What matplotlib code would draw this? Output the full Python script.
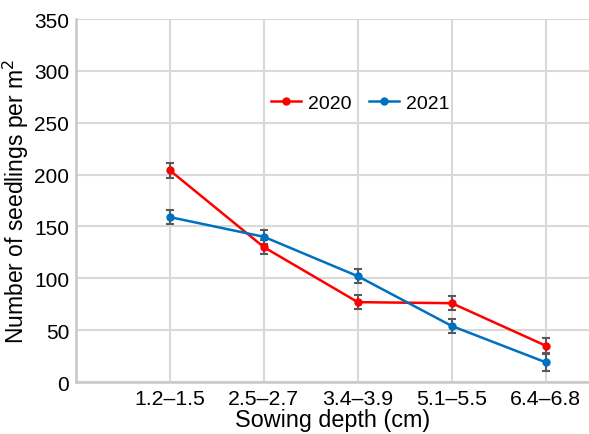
import matplotlib.pyplot as plt

plt.rcParams['font.family'] = ['Liberation Sans', 'DejaVu Sans']

depths = ['1.2\u20131.5', '2.5\u20132.7', '3.4\u20133.9', '5.1\u20135.5', '6.4\u20136.8']
y2020 = [204, 130, 77, 76, 35]
err2020 = [7, 7, 7, 7, 7]
y2021 = [159, 140, 102, 54, 19]
err2021 = [7, 7, 7, 7, 8]

xs = list(range(1, len(depths) + 1))

fig = plt.figure(figsize=(5.89, 4.35), dpi=100)
ax = fig.add_axes([0.129, 0.1195, 0.871, 0.8345])

for ys, errs, color, label in [(y2020, err2020, '#ff0000', '2020'),
                               (y2021, err2021, '#0070c0', '2021')]:
    ax.errorbar(xs, ys, yerr=errs, fmt='none', ecolor='#595959',
                elinewidth=1.5, capsize=3, capthick=1.5, zorder=3)
    ax.plot(xs, ys, '-o', color=color, lw=1.8, ms=5, label=label, zorder=4)

ax.set_xlim(0, 5.46)
ax.set_ylim(0, 350)
ax.set_xticks(xs)
ax.set_xticklabels(depths)
ax.set_yticks(range(0, 351, 50))
ax.grid(True, color='#d9d9d9', lw=1.5)
ax.set_axisbelow(True)
ax.tick_params(axis='x', length=0, labelsize=15.3, pad=5)
ax.tick_params(axis='y', length=0, labelsize=15, pad=5)
for s in ['top', 'right']:
    ax.spines[s].set_visible(False)
for s in ['left', 'bottom']:
    ax.spines[s].set_color('#c8c8c8')
    ax.spines[s].set_linewidth(1.8)

ax.set_xlabel('Sowing depth (cm)', fontsize=16.8, labelpad=0)
ax.set_ylabel('Number of seedlings per m$^2$', fontsize=16.5)
ax.yaxis.set_label_coords(-0.088, 0.5)

ax.legend(loc='center', bbox_to_anchor=(0.554, 0.769), ncol=2, frameon=False,
          fontsize=14, handlelength=1.55, columnspacing=0.9, handletextpad=0.35)

fig.savefig('out.png', dpi=100)
